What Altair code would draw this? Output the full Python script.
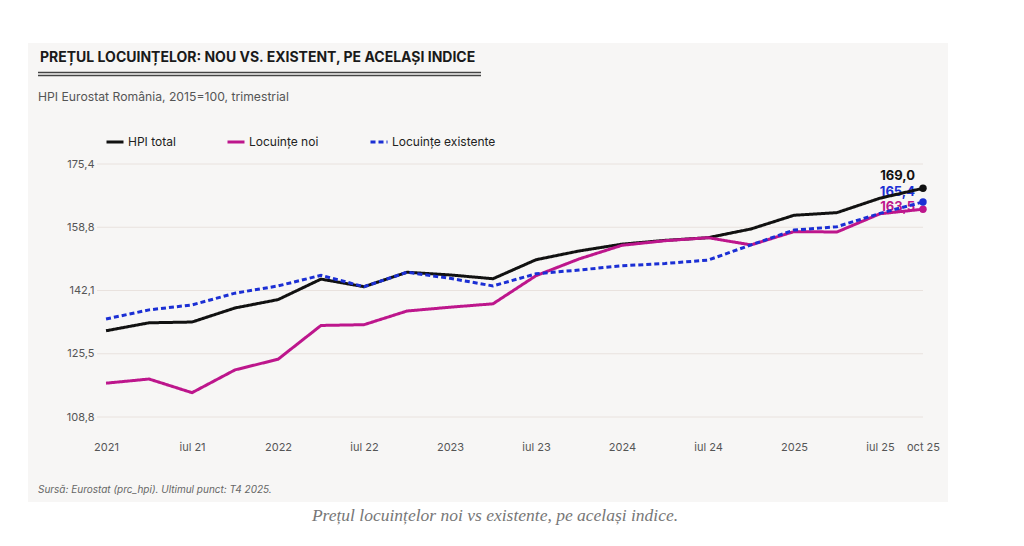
import json
import altair as alt
import pandas as pd

# ---- data ----
quarters = [
    "T1 2021", "T2 2021", "T3 2021", "T4 2021",
    "T1 2022", "T2 2022", "T3 2022", "T4 2022",
    "T1 2023", "T2 2023", "T3 2023", "T4 2023",
    "T1 2024", "T2 2024", "T3 2024", "T4 2024",
    "T1 2025", "T2 2025", "T3 2025", "T4 2025",
]
hpi_total = [131.5, 133.6, 133.8, 137.5, 139.7, 145.1, 143.1, 146.9, 146.2, 145.2,
             150.2, 152.5, 154.3, 155.3, 156.0, 158.3, 161.9, 162.6, 166.4, 169.0]
locuinte_noi = [117.7, 118.8, 115.2, 121.2, 124.0, 132.9, 133.1, 136.7, 137.7, 138.6,
                146.0, 150.4, 154.0, 155.2, 156.0, 154.1, 157.6, 157.5, 162.3, 163.5]
locuinte_existente = [134.6, 137.0, 138.3, 141.4, 143.3, 146.1, 143.1, 146.9, 145.3, 143.3,
                      146.5, 147.5, 148.6, 149.2, 150.1, 154.1, 158.0, 158.9, 162.4, 165.4]

series_names = ["HPI total", "Locuințe noi", "Locuințe existente"]
series_colors = ["#111111", "#bd168c", "#1b2fd4"]
series_dash = [[1, 0], [1, 0], [5, 3]]

x_tick_pos = [0, 2, 4, 6, 8, 10, 12, 14, 16, 18, 19]
x_tick_labels = ["2021", "iul 21", "2022", "iul 22", "2023", "iul 23",
                 "2024", "iul 24", "2025", "iul 25", "oct 25"]
y_ticks = [108.8, 125.45, 142.1, 158.75, 175.4]

title_text = "PREȚUL LOCUINȚELOR: NOU VS. EXISTENT, PE ACELAȘI INDICE"
subtitle_text = "HPI Eurostat România, 2015=100, trimestrial"
source_text = "Sursă: Eurostat (prc_hpi). Ultimul punct: T4 2025."
caption_text = "Prețul locuințelor noi vs existente, pe același indice."

rows = []
for name, vals in zip(series_names, [hpi_total, locuinte_noi, locuinte_existente]):
    for i, (q, v) in enumerate(zip(quarters, vals)):
        rows.append({"series": name, "idx": i, "quarter": q, "value": v})
df = pd.DataFrame(rows)
grid_df = pd.DataFrame({"value": y_ticks})

# ---- layout ----
W, H = 826, 253
PL, PT = 97, 164
FONT = "Inter"

x_scale = alt.Scale(domain=[-0.21, 19], nice=False, zero=False)
y_scale = alt.Scale(domain=[108.8, 175.4], nice=False, zero=False)
color_scale = alt.Scale(domain=series_names, range=series_colors)
dash_scale = alt.Scale(domain=series_names, range=series_dash)

label_expr = f"{json.dumps(x_tick_labels)}[indexof({json.dumps(x_tick_pos)}, datum.value)]"

x_enc = alt.X("idx:Q", scale=x_scale, title=None,
              axis=alt.Axis(values=x_tick_pos, labelExpr=label_expr, grid=False,
                            domain=False, ticks=False, labelPadding=24,
                            labelFontSize=11, labelColor="#555555", labelFont=FONT,
                            labelFlush=False, zindex=1))
y_enc = alt.Y("value:Q", scale=y_scale, title=None,
              axis=alt.Axis(values=y_ticks,
                            labelExpr="replace(format(datum.value + 0.001, '.1f'), '.', ',')",
                            grid=False, domain=False, ticks=False, labelPadding=3,
                            labelFontSize=11, labelColor="#555555", labelFont=FONT,
                            zindex=1))

one = alt.Data(values=[{"a": 1}])

panel = alt.Chart(one).mark_rect(color="#f7f6f5").encode(
    x=alt.value(28 - PL), x2=alt.value(948 - PL),
    y=alt.value(43 - PT), y2=alt.value(502 - PT))

grid = alt.Chart(grid_df).mark_rule(color="#e9e2de", strokeWidth=1).encode(
    y=alt.Y("value:Q", scale=y_scale), x=alt.value(0), x2=alt.value(W))

title = alt.Chart(one).mark_text(text=title_text, align="left", baseline="middle",
                                 font=FONT, fontSize=14, fontWeight="bold",
                                 color="#1a1a1a").encode(
    x=alt.value(40 - PL), y=alt.value(58 - PT))
rule1 = alt.Chart(one).mark_rule(color="#444444", strokeWidth=1.5).encode(
    x=alt.value(38 - PL), x2=alt.value(481 - PL), y=alt.value(72.5 - PT))
rule2 = alt.Chart(one).mark_rule(color="#444444", strokeWidth=1.5).encode(
    x=alt.value(38 - PL), x2=alt.value(481 - PL), y=alt.value(75.5 - PT))
subtitle = alt.Chart(one).mark_text(text=subtitle_text, align="left", baseline="middle",
                                    font=FONT, fontSize=12.2, color="#555555").encode(
    x=alt.value(38 - PL), y=alt.value(97 - PT))
source = alt.Chart(one).mark_text(text=source_text, align="left", baseline="middle",
                                  font=FONT, fontSize=10, fontStyle="italic",
                                  color="#666666").encode(
    x=alt.value(38 - PL), y=alt.value(490 - PT))
caption = alt.Chart(one).mark_text(text=caption_text, align="center", baseline="middle",
                                   font="Liberation Serif", fontSize=17.5, fontStyle="italic",
                                   color="#777777").encode(
    x=alt.value(495 - PL), y=alt.value(516 - PT))

base = alt.Chart(df)

lines = base.mark_line(strokeWidth=3, strokeCap="butt").encode(
    x=x_enc, y=y_enc,
    color=alt.Color("series:N", scale=color_scale, title=None,
                    legend=alt.Legend(orient="none", legendX=8, legendY=-32,
                                      direction="horizontal", symbolType="stroke",
                                      symbolSize=289, symbolStrokeWidth=3,
                                      labelFont=FONT, labelFontSize=12,
                                      labelColor="#222222", labelOffset=3,
                                      columnPadding=45, padding=0)),
    strokeDash=alt.StrokeDash("series:N", scale=dash_scale, title=None),
    order=alt.Order("idx:Q"),
)

last = base.transform_filter(alt.datum.idx == 19)

points = last.mark_circle(size=55, opacity=1).encode(
    x=x_enc, y=y_enc,
    color=alt.Color("series:N", scale=color_scale, legend=None))

label_dy = {"HPI total": -12, "Locuințe existente": -10, "Locuințe noi": -2}
label_layers = []
for name, col in zip(series_names, series_colors):
    label_layers.append(
        last.transform_filter(alt.datum.series == name)
        .transform_calculate(lbl="replace(format(datum.value, '.1f'), '.', ',')")
        .mark_text(align="right", baseline="middle", dx=-8, dy=label_dy[name],
                   font=FONT, fontSize=13, fontWeight="bold", color=col)
        .encode(x=x_enc, y=y_enc, text="lbl:N")
    )

chart = alt.layer(
    panel, grid, title, rule1, rule2, subtitle, source, caption,
    *label_layers, lines, points
).properties(
    width=W, height=H,
    autosize=alt.AutoSizeParams(type="none"),
    padding={"left": PL, "top": PT, "right": 1024 - PL - W, "bottom": 546 - PT - H},
    background="#ffffff",
).configure_view(stroke=None)

chart.save("out.html", embed_options={"renderer": "svg", "actions": False})
